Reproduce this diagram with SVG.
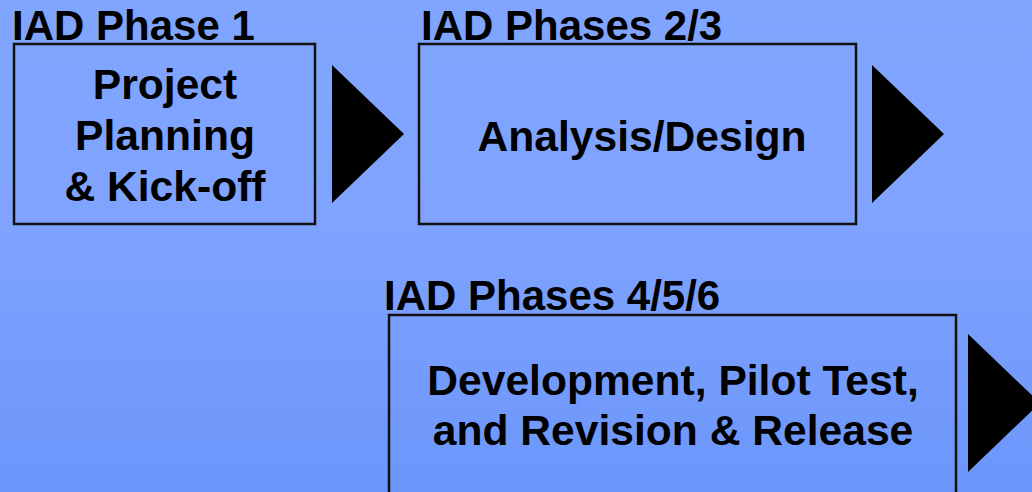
<svg xmlns="http://www.w3.org/2000/svg" width="1032" height="492" viewBox="0 0 1032 492">
<defs>
<linearGradient id="bg" x1="0" y1="0" x2="0" y2="1">
<stop offset="0" stop-color="#80a5ff"/>
<stop offset="0.45" stop-color="#7fa3fe"/>
<stop offset="1" stop-color="#6c96fb"/>
</linearGradient>
<style>
.box{fill:none;stroke:#111;stroke-width:2.5}
.lbl{font-family:"Liberation Sans",Arial,sans-serif;font-weight:bold;font-size:42px;fill:#000}
.txt{font-family:"Liberation Sans",Arial,sans-serif;font-weight:bold;font-size:42.6px;fill:#000;text-anchor:middle}
.arr{fill:#000}
</style>
</defs>
<rect x="0" y="0" width="1032" height="492" fill="url(#bg)"/>
<g id="phase1">
<text class="lbl" x="12" y="40">IAD Phase 1</text>
<rect class="box" x="14" y="44" width="301" height="180"/>
<text class="txt" x="165" y="99">Project</text>
<text class="txt" x="165" y="150">Planning</text>
<text class="txt" x="165" y="201">&amp; Kick-off</text>
</g>
<g id="phase23">
<text class="lbl" x="421" y="40">IAD Phases 2/3</text>
<rect class="box" x="419" y="44" width="437" height="180"/>
<text class="txt" x="642" y="151">Analysis/Design</text>
</g>
<g id="phase456">
<text class="lbl" x="384" y="310">IAD Phases 4/5/6</text>
<rect class="box" x="389" y="315" width="567" height="190"/>
<text class="txt" x="673" y="395">Development, Pilot Test,</text>
<text class="txt" x="673" y="445">and Revision &amp; Release</text>
</g>
<g id="connectors">
<polygon class="arr" points="332,65 404,134 332,203"/>
<polygon class="arr" points="872,65 944,134 872,203"/>
<polygon class="arr" points="968,334 1040,403 968,472"/>
</g>
</svg>
